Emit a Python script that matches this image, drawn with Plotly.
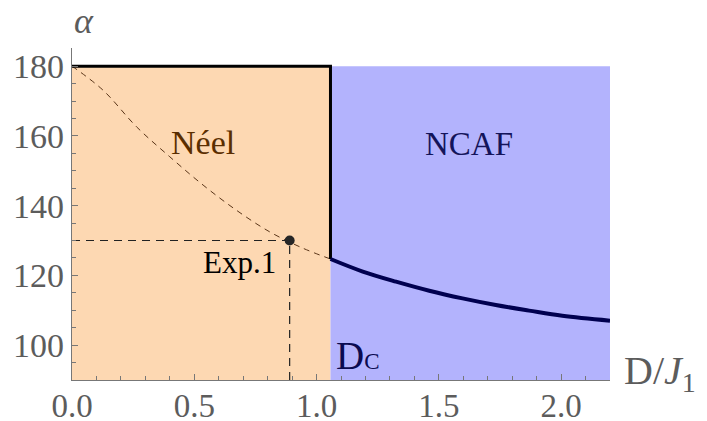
import plotly.graph_objects as go

# ---- data ----
D_C = 1.057
ALPHA_MIN = 90
ALPHA_MAX = 180
D_MAX = 2.2

neel_region_x = [0, D_C, D_C, 0, 0]
neel_region_y = [ALPHA_MIN, ALPHA_MIN, ALPHA_MAX, ALPHA_MAX, ALPHA_MIN]
ncaf_region_x = [D_C, D_MAX, D_MAX, D_C, D_C]
ncaf_region_y = [ALPHA_MIN, ALPHA_MIN, ALPHA_MAX, ALPHA_MAX, ALPHA_MIN]

# dashed classical curve inside Néel region
dash_x = [0.0, 0.127, 0.264, 0.40, 0.536, 0.672, 0.808, 0.944, 1.057]
dash_y = [180.0, 173.1, 162.6, 154.0, 145.9, 138.7, 132.5, 127.8, 124.7]

# phase boundary (thick black)
boundary_x = [0.0, D_C, D_C]
boundary_y = [180.0, 180.0, 124.7]

# NCAF curve
ncaf_x = [1.057, 1.189, 1.325, 1.461, 1.597, 1.733, 1.869, 2.005, 2.2]
ncaf_y = [124.7, 121.1, 118.2, 115.6, 113.4, 111.5, 109.9, 108.4, 107.0]

# experimental point
exp_x = [0.89]
exp_y = [130.0]

x_tickvals = [0.0, 0.5, 1.0, 1.5, 2.0]
x_ticktext = ["0.0", "0.5", "1.0", "1.5", "2.0"]
y_tickvals = [100, 120, 140, 160, 180]
y_ticktext = ["100", "120", "140", "160", "180"]

SERIF = "Liberation Serif, Times New Roman, serif"
GRAY = "#5c5c5c"

fig = go.Figure()
fig.add_trace(go.Scatter(x=neel_region_x, y=neel_region_y, fill="toself",
                         fillcolor="#FDD8B2", line=dict(width=0), mode="lines",
                         hoverinfo="skip"))
fig.add_trace(go.Scatter(x=ncaf_region_x, y=ncaf_region_y, fill="toself",
                         fillcolor="#B3B3FD", line=dict(width=0), mode="lines",
                         hoverinfo="skip"))
fig.add_trace(go.Scatter(x=dash_x, y=dash_y, mode="lines", line_shape="spline",
                         line=dict(color="#5a3518", width=1, dash="6px,5px")))
fig.add_trace(go.Scatter(x=[0, exp_x[0]], y=[exp_y[0], exp_y[0]], mode="lines",
                         line=dict(color="#222222", width=1.2, dash="8px,6px")))
fig.add_trace(go.Scatter(x=[exp_x[0], exp_x[0]], y=[ALPHA_MIN, exp_y[0]], mode="lines",
                         line=dict(color="#222222", width=1.2, dash="8px,6px")))
fig.add_trace(go.Scatter(x=boundary_x, y=boundary_y, mode="lines",
                         line=dict(color="#000000", width=3)))
fig.add_trace(go.Scatter(x=ncaf_x, y=ncaf_y, mode="lines", line_shape="spline",
                         line=dict(color="#00004f", width=4)))
fig.add_trace(go.Scatter(x=exp_x, y=exp_y, mode="markers",
                         marker=dict(color="#262626", size=10)))

fig.add_annotation(x=0.535, y=158.2, text="Néel", showarrow=False,
                   font=dict(family=SERIF, size=34, color="#5a2e00"))
fig.add_annotation(x=1.624, y=157.8, text="NCAF", showarrow=False,
                   font=dict(family=SERIF, size=33, color="#14145a"))
fig.add_annotation(x=0.684, y=123.6, text="Exp.1", showarrow=False,
                   font=dict(family=SERIF, size=31, color="#000000"))
fig.add_annotation(x=1.07, y=97.0, text="D<span style='font-size:23px'>C</span>",
                   showarrow=False, xanchor="left",
                   font=dict(family=SERIF, size=39, color="#0a0a50"))
fig.add_annotation(xref="paper", yref="paper", x=0, y=1.081, yanchor="middle",
                   text="<i>α</i>", showarrow=False,
                   font=dict(family=SERIF, size=36, color=GRAY))
fig.add_annotation(xref="paper", yref="paper", x=1, y=0, xanchor="left",
                   xshift=12, yshift=-20, text="D/<i>J</i><sub>1</sub>", showarrow=False,
                   font=dict(family=SERIF, size=40, color=GRAY))

fig.update_xaxes(range=[0, D_MAX], tickvals=x_tickvals, ticktext=x_ticktext,
                 automargin=False, ticklabelstandoff=-4,
                 showgrid=False, zeroline=False, showline=True, linecolor="#777777",
                 linewidth=1.2, ticks="inside", ticklen=6, tickcolor="#777777",
                 tickfont=dict(family=SERIF, size=33, color=GRAY),
                 minor=dict(dtick=0.1, tick0=0, ticks="inside", ticklen=4,
                            tickcolor="#777777", showgrid=False))
fig.update_yaxes(range=[ALPHA_MIN, 185.2], tickvals=y_tickvals, ticktext=y_ticktext,
                 automargin=False,
                 showgrid=False, zeroline=False, showline=True, linecolor="#777777",
                 linewidth=1.2, ticks="inside", ticklen=6, tickcolor="#777777",
                 tickfont=dict(family=SERIF, size=34, color=GRAY),
                 minor=dict(dtick=5, tick0=90, ticks="inside", ticklen=4,
                            tickcolor="#777777", showgrid=False))

# page body has an 8px margin, so the figure is offset by (8, 8)
fig.update_layout(width=699, height=413, showlegend=False,
                  paper_bgcolor="white", plot_bgcolor="white",
                  margin=dict(l=64, r=97, t=40, b=41, autoexpand=False))
fig.write_html("out.html")
